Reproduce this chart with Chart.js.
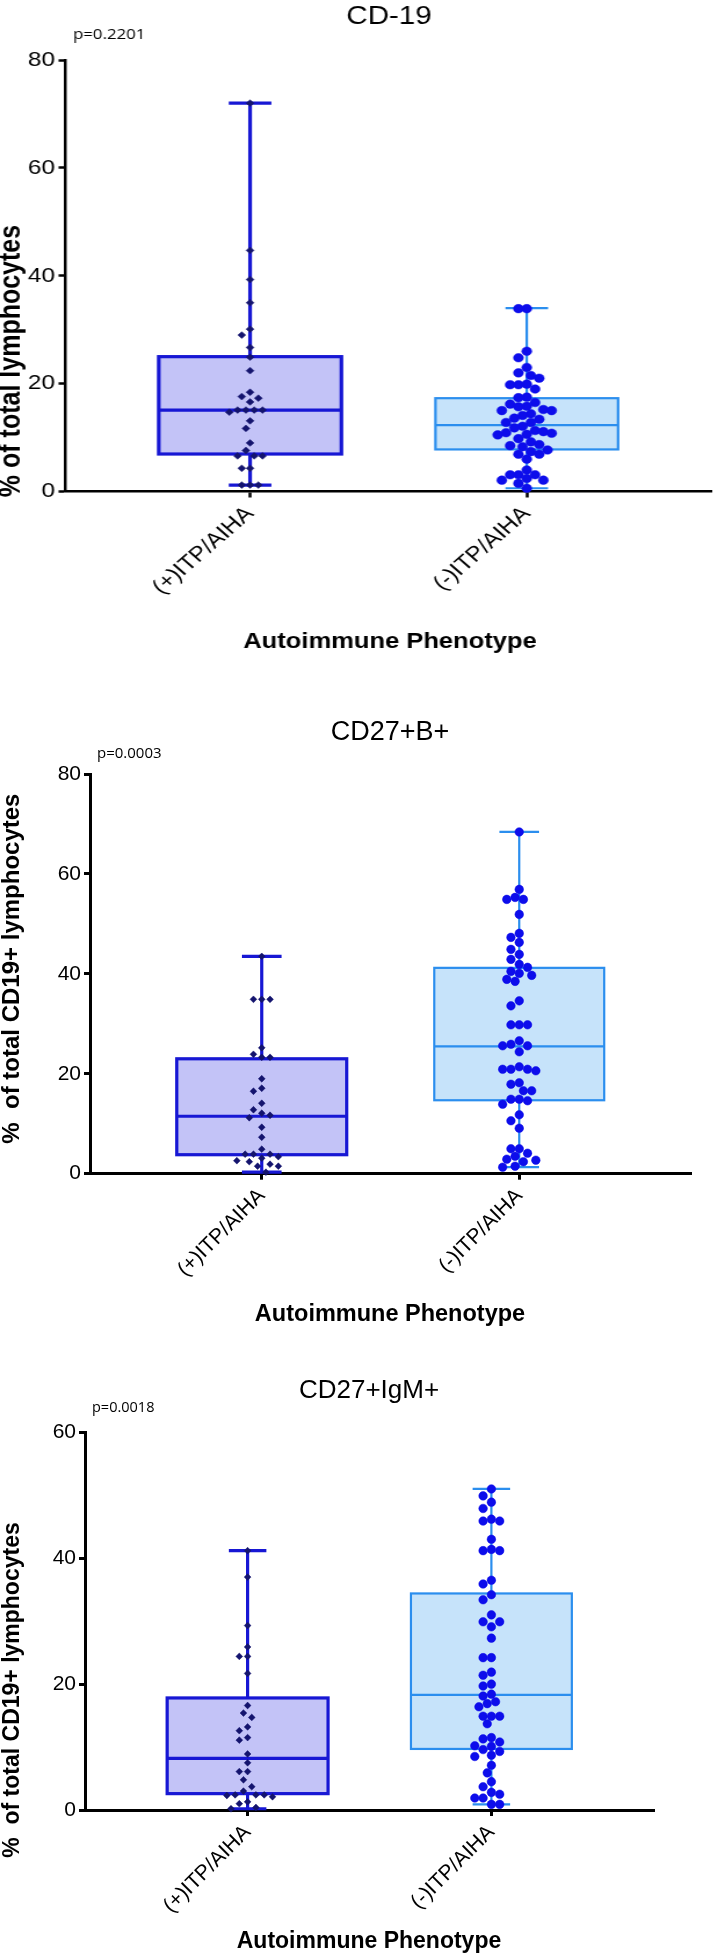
<!DOCTYPE html>
<html>
<head>
<meta charset="utf-8">
<script src="https://cdn.jsdelivr.net/npm/chart.js@4.4.1/dist/chart.umd.min.js"></script>
<style>
  html, body { margin: 0; padding: 0; background: #fff; }
  body { width: 717px; height: 1954px; position: relative; overflow: hidden; }
  .panel { position: absolute; left: 0; }
</style>
</head>
<body>
<div class="panel" style="top:0; transform: scaleX(1.16); transform-origin: 0 0;">
  <canvas id="c1" width="618" height="665"></canvas>
</div>
<div class="panel" style="top:665px;">
  <canvas id="c2" width="717" height="665"></canvas>
</div>
<div class="panel" style="top:1330px;">
  <canvas id="c3" width="717" height="624"></canvas>
</div>
<script>
const groups = ['(+)ITP/AIHA', '(-)ITP/AIHA'];

// CD-19, % of total lymphocytes
const cd19Pos = [72.0, 44.7, 39.3, 35.0, 30.1, 29.0, 26.7, 24.9, 22.4, 18.4, 17.6, 17.3, 16.6, 15.1, 15.1,
  15.1, 15.1, 14.7, 13.1, 11.7, 9.0, 7.6, 6.6, 6.6, 6.6, 4.3, 4.3, 1.2, 1.2, 1.2];
const cd19Neg = [33.9, 33.9, 26.0, 24.8, 23.0, 22.0, 21.5, 21.0, 19.9, 19.8, 19.8, 19.0, 17.5, 17.4, 16.5,
  16.2, 15.8, 15.7, 15.2, 15.0, 15.0, 14.4, 14.1, 13.6, 13.4, 12.8, 12.8, 12.1, 11.8, 11.3, 11.1, 10.9,
  10.8, 10.6, 10.5, 9.8, 9.2, 8.7, 8.5, 8.3, 7.7, 7.4, 6.9, 6.9, 6.0, 4.0, 3.1, 3.1, 3.1, 2.4, 2.1, 2.1,
  1.5, 0.6];
// min, q1, median, q3, max
const cd19Box = [[1.2, 6.95, 15.1, 25.0, 72.0], [0.6, 7.8, 12.3, 17.3, 34.0]];

// CD27+B+, % of total CD19+ lymphocytes
const cd27bPos = [43.5, 34.9, 34.9, 34.9, 25.2, 23.9, 23.3, 23.3, 19.0, 17.1, 16.5, 14.1, 12.8, 12.1, 11.7,
  11.2, 9.3, 7.3, 4.9, 3.9, 3.9, 3.9, 3.4, 3.1, 2.6, 2.4, 1.9, 1.5, 1.5, 0.3];
const cd27bNeg = [68.4, 56.9, 55.3, 54.9, 54.9, 51.9, 48.1, 47.3, 46.3, 44.9, 43.9, 42.9, 41.9, 41.3, 40.5,
  40.1, 39.7, 38.9, 38.5, 34.6, 33.6, 29.8, 29.8, 29.8, 26.6, 25.9, 25.6, 25.6, 24.4, 21.4, 20.9, 20.9,
  20.9, 20.6, 18.2, 17.9, 16.6, 16.6, 14.9, 14.9, 14.6, 13.9, 11.8, 10.6, 9.1, 5.0, 5.0, 4.1, 3.5, 2.9,
  2.7, 2.4, 1.5, 1.3];
const cd27bBox = [[0.3, 3.8, 11.5, 23.0, 43.5], [1.3, 14.7, 25.5, 41.2, 68.4]];

// CD27+IgM+, % of total CD19+ lymphocytes
const cd27mPos = [41.2, 37.0, 29.3, 25.9, 24.4, 24.4, 21.7, 16.6, 15.4, 14.7, 13.2, 12.6, 11.5, 11.1, 8.9,
  7.5, 6.1, 6.1, 4.8, 3.7, 3.0, 2.4, 2.4, 2.4, 2.3, 2.1, 1.3, 1.0, 0.4, 0.2];
const cd27mNeg = [51.0, 49.9, 48.9, 47.9, 46.2, 45.9, 45.9, 43.0, 41.4, 41.2, 41.2, 36.5, 35.9, 34.2, 33.4,
  31.0, 29.9, 29.9, 29.1, 27.3, 24.2, 24.2, 21.9, 21.4, 20.0, 19.7, 18.4, 18.1, 17.2, 16.9, 16.4, 14.9,
  14.9, 14.9, 13.7, 11.5, 11.3, 10.8, 10.2, 10.1, 9.6, 9.3, 8.7, 8.5, 7.1, 5.9, 4.5, 3.7, 2.8, 2.5, 1.9,
  1.9, 0.9, 0.9];
const cd27mBox = [[0.2, 2.6, 8.2, 17.8, 41.2], [0.9, 9.7, 18.3, 34.4, 51.0]];

const titles = ['CD-19', 'CD27+B+', 'CD27+IgM+'];
const pValues = ['p=0.2201', 'p=0.0003', 'p=0.0018'];
const yTitles = ['% of total lymphocytes', '%  of total CD19+ lymphocytes', '%  of total CD19+ lymphocytes'];
const xTitle = 'Autoimmune Phenotype';

const SANS = "'Liberation Sans', Arial, sans-serif";
const pointColors = ['#14146e', '#0d0deb'];
const boxLine = ['#1717d4', '#2b8eee'];
const boxFill = ['#c3c3f7', '#c6e3fa'];
const boxLw = [3.2, 2.2];
const boxHalf = 0.33;
const capHalf = 0.077;

function boxPlugin(boxes) {
  return {
    id: 'boxWhisker',
    beforeDatasetsDraw(chart) {
      const { ctx, scales: { x, y } } = chart;
      boxes.forEach((b, g) => {
        const [lo, q1, med, q3, hi] = b.map(v => y.getPixelForValue(v));
        const cx = x.getPixelForValue(g);
        const xl = x.getPixelForValue(g - boxHalf), xr = x.getPixelForValue(g + boxHalf);
        const cl = x.getPixelForValue(g - capHalf), cr = x.getPixelForValue(g + capHalf);
        ctx.save();
        ctx.fillStyle = boxFill[g];
        ctx.strokeStyle = boxLine[g];
        ctx.lineWidth = boxLw[g];
        ctx.fillRect(xl, q3, xr - xl, q1 - q3);
        ctx.strokeRect(xl, q3, xr - xl, q1 - q3);
        ctx.beginPath();
        ctx.moveTo(xl, med); ctx.lineTo(xr, med);
        ctx.moveTo(cx, q3); ctx.lineTo(cx, hi);
        ctx.moveTo(cl, hi); ctx.lineTo(cr, hi);
        ctx.moveTo(cx, q1); ctx.lineTo(cx, lo);
        ctx.moveTo(cl, lo); ctx.lineTo(cr, lo);
        ctx.stroke();
        ctx.restore();
      });
    }
  };
}

function textPlugin(items) {
  return {
    id: 'panelText',
    afterDraw(chart) {
      const ctx = chart.ctx;
      items.forEach(t => {
        ctx.save();
        ctx.font = t.font;
        ctx.fillStyle = '#000';
        ctx.textAlign = t.align || 'center';
        ctx.textBaseline = t.rotate ? 'middle' : 'alphabetic';
        ctx.translate(t.x, t.y);
        if (t.rotate) ctx.rotate(-Math.PI / 2);
        ctx.fillText(t.text, 0, 0);
        ctx.restore();
      });
    }
  };
}

// spread points sideways so they don't overlap (beeswarm), gap in screen px
function swarm(chart, stretch) {
  const xs = chart.scales.x, ys = chart.scales.y;
  const unit = (xs.getPixelForValue(1) - xs.getPixelForValue(0)) * stretch;
  chart.data.datasets.forEach((ds, g) => {
    const gap = 8.3;
    const placed = [];
    const order = ds.data.map((p, k) => k).sort((a, b) => ds.data[b].y - ds.data[a].y);
    order.forEach(k => {
      const py = ys.getPixelForValue(ds.data[k].y);
      let off = 0;
      for (let n = 0; n < 60; n++) {
        const cand = n === 0 ? 0 : (n % 2 ? -1 : 1) * Math.ceil(n / 2) * gap / 2;
        if (placed.every(q => Math.hypot(q.x - cand, q.y - py) >= gap - 0.01)) { off = cand; break; }
      }
      placed.push({ x: off, y: py });
      ds.data[k].x = g + off / unit;
    });
  });
  chart.update('none');
}

function makeChart(id, p) {
  const canvas = document.getElementById(id);
  const W = canvas.width, H = canvas.height;
  const chart = new Chart(canvas, {
    type: 'scatter',
    data: {
      datasets: p.series.map((vals, g) => ({
        data: vals.map(v => ({ x: g, y: v })),
        pointStyle: g === 0 ? 'rectRot' : 'circle',
        pointRadius: g === 0 ? 3.4 : 4.3,
        backgroundColor: pointColors[g],
        borderColor: pointColors[g],
        borderWidth: 0.5,
        clip: false
      }))
    },
    options: {
      responsive: false,
      animation: false,
      events: [],
      layout: { padding: { left: 0, top: p.area.top, right: W - p.area.right, bottom: 0 } },
      plugins: { legend: { display: false }, tooltip: { enabled: false } },
      scales: {
        x: {
          type: 'linear',
          min: -0.667,
          max: 1.667,
          afterFit: s => { s.height = H - p.area.bottom; },
          afterBuildTicks: s => { s.ticks = groups.map((g, i) => ({ value: i })); },
          ticks: {
            callback: (v, i) => groups[i],
            minRotation: 45,
            maxRotation: 45,
            padding: 4,
            color: '#000',
            font: { family: SANS, size: p.xTickSize }
          },
          grid: { drawOnChartArea: false, tickLength: 6, tickWidth: p.axisW, tickColor: '#000' },
          border: { color: '#000', width: p.axisW }
        },
        y: {
          min: 0,
          max: p.yMax,
          afterFit: s => { s.width = p.area.left; },
          ticks: { stepSize: 20, padding: 3, color: '#000', font: { family: SANS, size: p.yTickSize } },
          grid: { drawOnChartArea: false, tickLength: 6, tickWidth: p.axisW, tickColor: '#000' },
          border: { color: '#000', width: p.axisW }
        }
      }
    },
    plugins: [boxPlugin(p.boxes), textPlugin(p.texts)]
  });
  swarm(chart, p.stretch);
}

const S1 = 1.16;
makeChart('c1', {
  series: [cd19Pos, cd19Neg],
  boxes: cd19Box,
  yMax: 80,
  stretch: S1,
  axisW: 2.5,
  xTickSize: 21,
  yTickSize: 21,
  area: { left: 65.5 / S1, right: 714 / S1, top: 60, bottom: 491.5 },
  texts: [
    { text: titles[0], x: 389 / S1, y: 23.5, font: `25.5px ${SANS}` },
    { text: pValues[0], x: 73 / S1, y: 38.5, align: 'left', font: `14.5px 'Open Sans', sans-serif` },
    { text: yTitles[0], x: 11.5 / S1, y: 361, rotate: true, font: `bold 25px ${SANS}` },
    { text: xTitle, x: 390 / S1, y: 648, font: `bold 22px ${SANS}` }
  ]
});

makeChart('c2', {
  series: [cd27bPos, cd27bNeg],
  boxes: cd27bBox,
  yMax: 80,
  stretch: 1,
  axisW: 3,
  xTickSize: 21,
  yTickSize: 21,
  area: { left: 90, right: 691, top: 109, bottom: 508.7 },
  texts: [
    { text: titles[1], x: 390, y: 75, font: `27px ${SANS}` },
    { text: pValues[1], x: 97, y: 93, align: 'left', font: `15px 'Open Sans', sans-serif` },
    { text: yTitles[1], x: 12.6, y: 303.6, rotate: true, font: `bold 24px ${SANS}` },
    { text: xTitle, x: 390, y: 656, font: `bold 23.5px ${SANS}` }
  ]
});

makeChart('c3', {
  series: [cd27mPos, cd27mNeg],
  boxes: cd27mBox,
  yMax: 60,
  stretch: 1,
  axisW: 3,
  xTickSize: 21,
  yTickSize: 21,
  area: { left: 85, right: 654, top: 102.3, bottom: 480 },
  texts: [
    { text: titles[2], x: 369, y: 68, font: `26px ${SANS}` },
    { text: pValues[2], x: 92, y: 82, align: 'left', font: `14.5px 'Open Sans', sans-serif` },
    { text: yTitles[2], x: 12.6, y: 360, rotate: true, font: `bold 23px ${SANS}` },
    { text: xTitle, x: 369, y: 618, font: `bold 23px ${SANS}` }
  ]
});
</script>
</body>
</html>
